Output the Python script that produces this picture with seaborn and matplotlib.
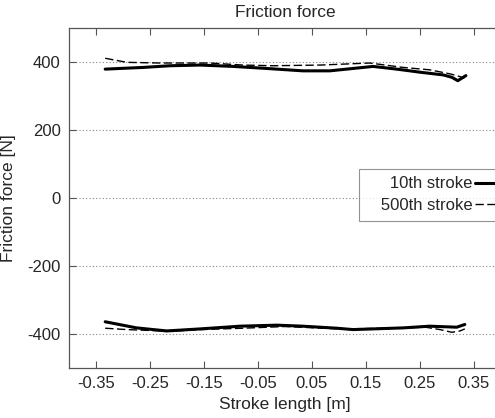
import numpy as np
import pandas as pd
import matplotlib
matplotlib.use("Agg")
import matplotlib.pyplot as plt
import seaborn as sns

# stroke positions [m] and friction force [N]
x_10_up = [-0.333, -0.306, -0.263, -0.213, -0.157, -0.096, -0.034, 0.033, 0.083, 0.126,
           0.163, 0.207, 0.25, 0.293, 0.309, 0.32, 0.335]
f_10_up = [379, 381, 384, 389, 391, 387, 381, 374, 374, 381,
           387, 379, 370, 362, 355, 345, 360]
x_10_lo = [-0.333, -0.275, -0.219, -0.157, -0.083, -0.015, 0.033, 0.096, 0.126, 0.219,
           0.268, 0.318, 0.333]
f_10_lo = [-364, -382, -391, -385, -377, -374, -377, -383, -387, -382,
           -377, -380, -372]

x_500_up = [-0.333, -0.293, -0.232, -0.139, -0.078, -0.022, 0.065, 0.157, 0.219, 0.268,
            0.306, 0.324, 0.332]
f_500_up = [411, 399, 397, 397, 391, 389, 391, 397, 384, 377,
            365, 357, 352]
x_500_lo = [-0.333, -0.293, -0.244, -0.213, -0.157, -0.078, 0.0, 0.1, 0.2, 0.26,
            0.287, 0.309, 0.324, 0.333]
f_500_lo = [-383, -387, -390, -392, -387, -383, -378, -385, -383, -380,
            -387, -395, -391, -385]

labels = ["10th stroke", "500th stroke"]
x_ticks = [-0.35, -0.25, -0.15, -0.05, 0.05, 0.15, 0.25, 0.35]
y_ticks = [-400, -200, 0, 200, 400]

sns.set_style("white")
plt.rcParams["font.family"] = ["Liberation Sans", "DejaVu Sans"]
plt.rcParams["axes.unicode_minus"] = False

fig = plt.figure(figsize=(4.95, 4.18), dpi=100)
ax = fig.add_axes([69 / 495, 50 / 418, 432 / 495, 340 / 418])

for y in y_ticks:
    ax.axhline(y, color="#888888", lw=0.8, ls=(0, (1, 2)), zorder=0)

sns.lineplot(x=x_10_up, y=f_10_up, sort=False, color="black", lw=2.2, ax=ax)
sns.lineplot(x=x_10_lo, y=f_10_lo, sort=False, color="black", lw=2.2, ax=ax)
sns.lineplot(x=x_500_up, y=f_500_up, sort=False, color="black", lw=1.0, ax=ax)
ax.lines[-1].set_dashes([6, 2.5])
sns.lineplot(x=x_500_lo, y=f_500_lo, sort=False, color="black", lw=1.0, ax=ax)
ax.lines[-1].set_dashes([6, 2.5])

ax.set_xlim(-0.4, 0.4)
ax.set_ylim(-500, 500)
ax.set_xticks(x_ticks)
ax.set_xticklabels([f"{t:.2f}" for t in x_ticks])
ax.set_yticks(y_ticks)
ax.tick_params(direction="in", length=5, width=0.8, color="#555555",
               labelsize=12, top=True, bottom=True, left=True, pad=6)
for s in ax.spines.values():
    s.set_color("#555555")
    s.set_linewidth(0.9)
ax.spines["right"].set_visible(False)

ax.set_title("Friction force", fontsize=12.5, pad=8)
ax.set_xlabel("Stroke length [m]", fontsize=12.5, labelpad=4)
ax.set_ylabel("Friction force [N]", fontsize=12.5, labelpad=8)

h = [ax.lines[-4], ax.lines[-2]]
leg = ax.legend(h, ["   " + s for s in labels], loc="upper left",
                bbox_to_anchor=(290 / 432, 199 / 340),
                markerfirst=False, fontsize=12, frameon=True, fancybox=False,
                handlelength=2.5, handletextpad=0.2, borderpad=0.45, labelspacing=0.4,
                borderaxespad=0)
leg.get_frame().set_edgecolor("#777777")
leg.get_frame().set_linewidth(0.8)
for t in leg.get_texts():
    t.set_ha("right")

fig.savefig("out.png", dpi=100)
